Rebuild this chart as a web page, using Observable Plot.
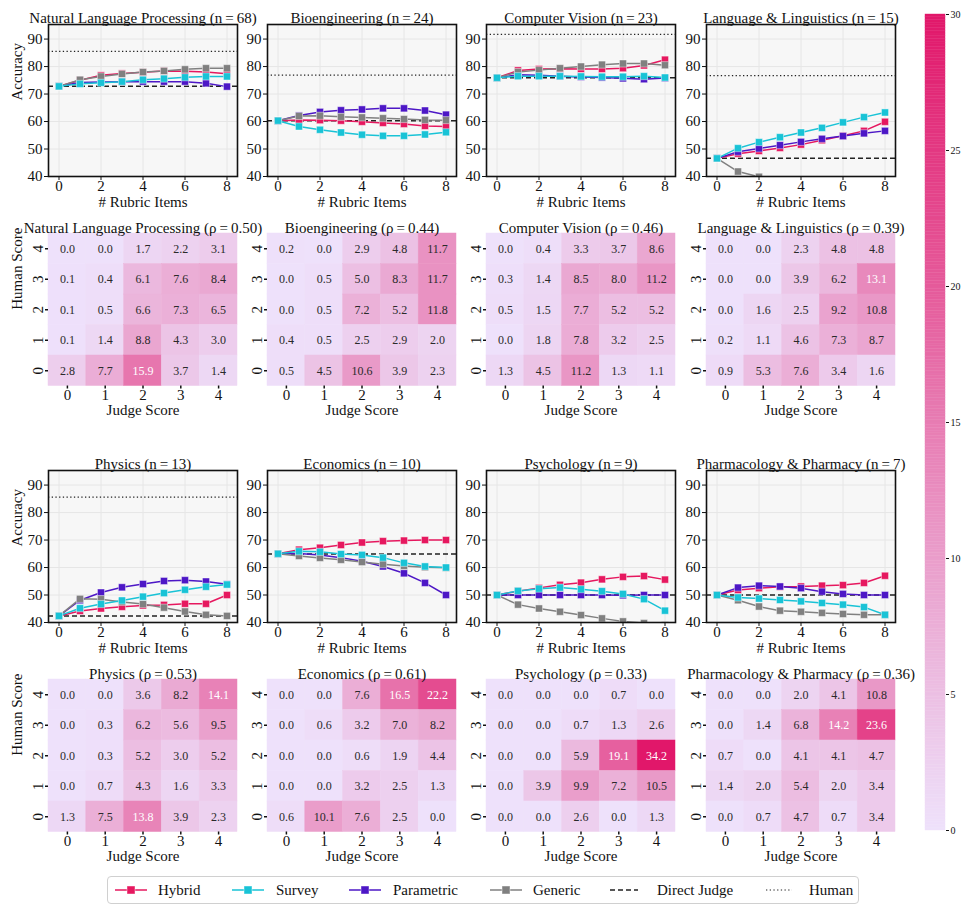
<!DOCTYPE html>
<html><head><meta charset="utf-8">
<script src="https://cdn.jsdelivr.net/npm/d3@7"></script>
<script src="https://cdn.jsdelivr.net/npm/@observablehq/plot@0.6"></script>
<style>
body{margin:0;background:#fff;}
#root{position:relative;width:965px;height:909px;background:#fff;overflow:hidden;color:#111;}
.legend{position:absolute;left:107px;top:876px;width:752px;height:28px;border:1px solid #d0d0d0;border-radius:4px;box-sizing:border-box;font-size:15px;}
.legend .item{position:absolute;top:0;height:26px;display:flex;align-items:center;}
.legend svg{display:block;}
</style></head><body><div id="root"></div>
<script>
// ---------- DATA ----------
const rubricItems = [0, 1, 2, 3, 4, 5, 6, 7, 8];
const domainNames = ["Natural Language Processing", "Bioengineering", "Computer Vision", "Language & Linguistics",
  "Physics", "Economics", "Psychology", "Pharmacology & Pharmacy"];
const domainN = [68, 24, 23, 15, 13, 10, 9, 7];
const rhoValues = ["0.50", "0.44", "0.46", "0.39", "0.53", "0.61", "0.33", "0.36"];
const seriesNames = ["Hybrid", "Survey", "Parametric", "Generic"];
const seriesColors = ["#e6185f", "#19c3d6", "#4d17c6", "#808080"];

const hybrid = [
  [72.8, 75.0, 76.8, 77.5, 77.9, 78.4, 78.3, 78.0, 77.4],
  [60.3, 60.6, 60.5, 60.3, 59.9, 59.5, 59.1, 58.4, 58.2],
  [75.9, 78.6, 79.1, 79.2, 79.1, 79.1, 79.4, 80.4, 82.5],
  [46.6, 48.3, 49.3, 50.4, 51.6, 53.2, 54.8, 56.6, 59.9],
  [42.4, 44.2, 45.1, 45.7, 46.2, 46.4, 46.8, 46.8, 50.0],
  [65.0, 66.5, 67.2, 68.2, 69.1, 69.6, 69.8, 70.0, 70.0],
  [50.0, 51.4, 52.6, 53.7, 54.5, 55.7, 56.6, 56.9, 55.6],
  [50.0, 51.8, 52.5, 53.0, 53.1, 53.4, 53.6, 54.4, 57.0]
];
const survey = [
  [72.8, 73.7, 74.1, 74.5, 75.2, 75.6, 76.1, 76.4, 76.4],
  [60.3, 58.2, 57.0, 56.0, 55.2, 54.8, 54.8, 55.3, 56.1],
  [75.9, 76.5, 76.5, 76.5, 76.4, 76.3, 76.3, 76.5, 76.0],
  [46.6, 50.3, 52.5, 54.3, 56.0, 57.7, 59.7, 61.6, 63.3],
  [42.4, 45.2, 46.7, 48.0, 49.4, 50.7, 51.9, 53.0, 53.8],
  [65.0, 65.9, 65.7, 64.9, 64.6, 63.6, 61.7, 60.4, 60.0],
  [50.0, 51.5, 52.3, 52.7, 52.1, 51.4, 50.4, 48.5, 44.3],
  [50.0, 49.1, 48.7, 48.2, 47.7, 47.1, 46.5, 45.6, 42.8]
];
const parametric = [
  [72.8, 74.2, 74.4, 74.5, 74.5, 74.5, 74.5, 73.9, 72.7],
  [60.3, 62.2, 63.5, 64.1, 64.4, 64.8, 64.8, 64.0, 62.5],
  [75.9, 77.0, 76.8, 76.5, 76.2, 76.0, 75.7, 75.4, 75.8],
  [46.6, 49.0, 50.2, 51.4, 52.6, 53.7, 54.7, 55.7, 56.6],
  [42.4, 48.1, 50.9, 52.8, 54.0, 55.1, 55.4, 54.9, 53.9],
  [65.0, 65.1, 64.6, 63.6, 62.3, 60.4, 57.9, 54.4, 50.0],
  [50.0, 50.0, 50.0, 50.0, 50.0, 50.0, 49.9, 50.0, 50.0],
  [50.0, 52.7, 53.4, 53.1, 52.5, 51.2, 50.4, 50.0, 50.0]
];
const generic = [
  [72.8, 75.2, 76.4, 77.3, 78.0, 78.4, 79.0, 79.4, 79.4],
  [60.3, 62.0, 62.1, 61.7, 61.5, 61.2, 60.9, 60.6, 60.5],
  [75.9, 78.0, 78.7, 79.4, 80.0, 80.7, 81.1, 81.1, 80.5],
  [46.6, 41.8, 39.9, 38.5, 37.5, 36.5, 35.8, 35.2, 34.7],
  [42.4, 48.6, 48.5, 47.5, 46.7, 45.4, 44.0, 42.8, 42.4],
  [65.0, 64.2, 63.5, 62.8, 62.0, 61.2, 60.6, 60.1, 59.9],
  [50.0, 46.5, 45.1, 43.9, 42.7, 41.5, 40.4, 39.8, 39.0],
  [50.0, 48.1, 45.8, 44.3, 43.9, 43.5, 43.1, 42.8, 42.8]
];
const directJudge = [72.8, 60.3, 75.9, 46.6, 42.4, 64.9, 50.0, 50.0];
const humanAcc = [85.5, 76.9, 91.7, 76.7, 85.6, null, null, null];

const judgeScores = [0, 1, 2, 3, 4];
const humanScores = [4, 3, 2, 1, 0]; // rows top to bottom
const heatmaps = [
  [[0.0, 0.0, 1.7, 2.2, 3.1], [0.1, 0.4, 6.1, 7.6, 8.4], [0.1, 0.5, 6.6, 7.3, 6.5], [0.1, 1.4, 8.8, 4.3, 3.0], [2.8, 7.7, 15.9, 3.7, 1.4]],
  [[0.2, 0.0, 2.9, 4.8, 11.7], [0.0, 0.5, 5.0, 8.3, 11.7], [0.0, 0.5, 7.2, 5.2, 11.8], [0.4, 0.5, 2.5, 2.9, 2.0], [0.5, 4.5, 10.6, 3.9, 2.3]],
  [[0.0, 0.4, 3.3, 3.7, 8.6], [0.3, 1.4, 8.5, 8.0, 11.2], [0.5, 1.5, 7.7, 5.2, 5.2], [0.0, 1.8, 7.8, 3.2, 2.5], [1.3, 4.5, 11.2, 1.3, 1.1]],
  [[0.0, 0.0, 2.3, 4.8, 4.8], [0.0, 0.0, 3.9, 6.2, 13.1], [0.0, 1.6, 2.5, 9.2, 10.8], [0.2, 1.1, 4.6, 7.3, 8.7], [0.9, 5.3, 7.6, 3.4, 1.6]],
  [[0.0, 0.0, 3.6, 8.2, 14.1], [0.0, 0.3, 6.2, 5.6, 9.5], [0.0, 0.3, 5.2, 3.0, 5.2], [0.0, 0.7, 4.3, 1.6, 3.3], [1.3, 7.5, 13.8, 3.9, 2.3]],
  [[0.0, 0.0, 7.6, 16.5, 22.2], [0.0, 0.6, 3.2, 7.0, 8.2], [0.0, 0.0, 0.6, 1.9, 4.4], [0.0, 0.0, 3.2, 2.5, 1.3], [0.6, 10.1, 7.6, 2.5, 0.0]],
  [[0.0, 0.0, 0.0, 0.7, 0.0], [0.0, 0.0, 0.7, 1.3, 2.6], [0.0, 0.0, 5.9, 19.1, 34.2], [0.0, 3.9, 9.9, 7.2, 10.5], [0.0, 0.0, 2.6, 0.0, 1.3]],
  [[0.0, 0.0, 2.0, 4.1, 10.8], [0.0, 1.4, 6.8, 14.2, 23.6], [0.7, 0.0, 4.1, 4.1, 4.7], [1.4, 2.0, 5.4, 2.0, 3.4], [0.0, 0.7, 4.7, 0.7, 3.4]]
];
const xTicks = [0, 2, 4, 6, 8];
const yTicks = [40, 50, 60, 70, 80, 90];
const colorbarTicks = [0, 5, 10, 15, 20, 25, 30];

// ---------- FONT ----------
function pickFont(cands) {
  const ctx = document.createElement("canvas").getContext("2d");
  const test = "Natural Language Processing (n=68) Wmgi 0123456789";
  for (const f of cands) {
    let found = false;
    for (const base of ["monospace", "sans-serif", "serif"]) {
      ctx.font = `40px ${base}`; const w0 = ctx.measureText(test).width;
      ctx.font = `40px "${f}", ${base}`; const w1 = ctx.measureText(test).width;
      if (Math.abs(w1 - w0) > 0.5) { found = true; break; }
    }
    if (found) return `"${f}"`;
  }
  return "serif";
}
const FONT = pickFont(["Liberation Serif", "Tinos", "Times New Roman", "Times", "Nimbus Roman", "DejaVu Serif", "Noto Serif"]) + ", serif";

// ---------- LAYOUT ----------
const colLeft = [48, 267, 486, 706];
const lineTop = [24, 470];
const heatTop = [233, 679];
const FW = 189, LH = 152, HH = 152.5;
const root = document.getElementById("root");
root.style.fontFamily = FONT;
const seriesArrays = [hybrid, survey, parametric, generic];
const drawOrder = ["Hybrid", "Parametric", "Generic", "Survey"];
const colorOf = Object.fromEntries(seriesNames.map((s, k) => [s, seriesColors[k]]));
const heatRange = ["#eee1fb", "#e1176a"];
const fmt = d3.format(".1f");

function place(el, left, top) {
  el.style.position = "absolute";
  el.style.left = left + "px";
  el.style.top = top + "px";
  root.appendChild(el);
}
const baseStyle = {background: "transparent", overflow: "visible", fontFamily: FONT, fontSize: "15px", color: "#111"};

function linePanel(i) {
  const col = i % 4, row = Math.floor(i / 4);
  const rows = [];
  seriesNames.forEach((s, k) => seriesArrays[k][i].forEach((v, j) => rows.push({series: s, x: rubricItems[j], y: v})));
  const marks = [
    Plot.frame({fill: "#f7f7f7", stroke: null}),
    Plot.gridX({ticks: xTicks, stroke: "#e6e6e6", strokeOpacity: 1, strokeWidth: 1}),
    Plot.gridY({ticks: yTicks, stroke: "#e6e6e6", strokeOpacity: 1, strokeWidth: 1}),
    Plot.ruleY([directJudge[i]], {stroke: "#222", strokeWidth: 1.5, strokeDasharray: "5,3", clip: true})
  ];
  if (humanAcc[i] != null) marks.push(Plot.ruleY([humanAcc[i]], {stroke: "#222", strokeWidth: 1.3, strokeDasharray: "1.3,2.4", clip: true}));
  for (const s of drawOrder) {
    const d = rows.filter(r => r.series === s);
    marks.push(Plot.line(d, {x: "x", y: "y", stroke: colorOf[s], strokeWidth: 1.5, clip: true}));
    marks.push(Plot.dot(d, {x: "x", y: "y", symbol: "square", r: 4, fill: colorOf[s], stroke: "white", strokeOpacity: 0.55, strokeWidth: 0.8, clip: true}));
  }
  marks.push(
    Plot.frame({stroke: "#111", strokeWidth: 1.6}),
    Plot.axisX({ticks: xTicks, tickSize: 4, tickPadding: 0, label: null, fontSize: 15}),
    Plot.axisY({ticks: yTicks, tickSize: 4, tickPadding: 2, label: null, fontSize: 15}),
    Plot.text([`${domainNames[i]} (n\u2009=\u2009${domainN[i]})`], {frameAnchor: "top", dy: -12, fontSize: 15}),
    Plot.text(["# Rubric Items"], {frameAnchor: "bottom", dy: 30, fontSize: 15})
  );
  if (col === 0) marks.push(Plot.text(["Accuracy"], {frameAnchor: "left", dx: -31, rotate: -90, fontSize: 15}));
  const p = Plot.plot({
    width: 48 + FW + 4, height: 24 + LH + 42,
    marginLeft: 48, marginRight: 4, marginTop: 24, marginBottom: 42,
    style: baseStyle,
    x: {domain: [-0.5, 8.5]},
    y: {domain: [40, 95.3]},
    marks
  });
  place(p, colLeft[col] - 48, lineTop[row] - 24);
}

function heatPanel(i) {
  const col = i % 4, row = Math.floor(i / 4);
  const cells = [];
  humanScores.forEach((h, r) => judgeScores.forEach((j, c) => cells.push({human: h, judge: j, v: heatmaps[i][r][c]})));
  const marks = [
    Plot.cell(cells, {x: "judge", y: "human", fill: "v", stroke: "v", strokeWidth: 0.5, inset: 0}),
    Plot.text(cells.filter(d => d.v >= 12.5), {x: "judge", y: "human", text: d => fmt(d.v), fill: "white", fontSize: 12}),
    Plot.text(cells.filter(d => d.v < 12.5), {x: "judge", y: "human", text: d => fmt(d.v), fill: "#2a2a2a", fontSize: 12}),
    Plot.axisX({tickSize: 3, tickPadding: 0, strokeWidth: 1.5, label: null, fontSize: 15}),
    Plot.axisY({tickSize: 3, tickPadding: 3, strokeWidth: 1.5, tickRotate: -90, label: null, fontSize: 15}),
    Plot.text([`${domainNames[i]} (\u03C1\u2009=\u2009${rhoValues[i]})`], {frameAnchor: "top", dy: -11, fontSize: 15}),
    Plot.text(["Judge Score"], {frameAnchor: "bottom", dy: 29, fontSize: 15})
  ];
  if (col === 0) marks.push(Plot.text(["Human Score"], {frameAnchor: "left", dx: -31, rotate: -90, fontSize: 15}));
  const p = Plot.plot({
    width: 48 + FW + 4, height: 22 + HH + 38,
    marginLeft: 48, marginRight: 4, marginTop: 22, marginBottom: 38,
    style: baseStyle,
    x: {type: "band", domain: judgeScores, padding: 0, round: false},
    y: {type: "band", domain: humanScores, padding: 0, round: false},
    color: {type: "linear", domain: [0, 30], range: heatRange, interpolate: "rgb", clamp: true},
    marks
  });
  place(p, colLeft[col] - 48, heatTop[row] - 22);
}

for (let i = 0; i < 8; i++) { linePanel(i); heatPanel(i); }

// colorbar
const colorbarSteps = d3.range(0, 30, 0.1);
const cb = Plot.plot({
  width: 20 + 30, height: 816 + 12,
  marginLeft: 0, marginRight: 30, marginTop: 6, marginBottom: 6,
  style: {...baseStyle, fontSize: "10px"},
  x: {domain: [0, 1], axis: null},
  y: {domain: [0, 30]},
  color: {type: "linear", domain: [0, 30], range: heatRange, interpolate: "rgb", clamp: true},
  marks: [
    Plot.rect(colorbarSteps, {x1: 0, x2: 1, y1: d => d, y2: d => d + 0.1, fill: d => d + 0.05, stroke: d => d + 0.05, strokeWidth: 0.4}),
    Plot.axisY({anchor: "right", ticks: colorbarTicks, tickSize: 3, tickPadding: 2, label: null, fontSize: 10})
  ]
});
place(cb, 925, 14 - 6);

// legend
const legendItems = [
  {label: "Hybrid", kind: "marker", color: seriesColors[0], sw: 115, tx: 158},
  {label: "Survey", kind: "marker", color: seriesColors[1], sw: 232, tx: 276},
  {label: "Parametric", kind: "marker", color: seriesColors[2], sw: 349, tx: 393},
  {label: "Generic", kind: "marker", color: seriesColors[3], sw: 490, tx: 533},
  {label: "Direct Judge", kind: "dash", color: "#222", sw: 610, tx: 657},
  {label: "Human", kind: "dot", color: "#222", sw: 766, tx: 809}
];
const leg = document.createElement("div");
leg.className = "legend";
leg.style.fontFamily = FONT;
root.appendChild(leg);
for (const it of legendItems) {
  const sdiv = document.createElement("div");
  sdiv.className = "item";
  sdiv.style.left = (it.sw - 108) + "px";
  const w = 32;
  let inner;
  if (it.kind === "marker") {
    inner = `<line x1="0" y1="6" x2="${w}" y2="6" stroke="${it.color}" stroke-width="1.5"/><rect x="${w/2-4}" y="2" width="8" height="8" fill="${it.color}" stroke="white" stroke-opacity="0.55" stroke-width="0.8"/>`;
  } else if (it.kind === "dash") {
    inner = `<line x1="0" y1="6" x2="28" y2="6" stroke="${it.color}" stroke-width="1.5" stroke-dasharray="5,3"/>`;
  } else {
    inner = `<line x1="0" y1="6" x2="26" y2="6" stroke="${it.color}" stroke-width="1.2" stroke-dasharray="1.3,2.4"/>`;
  }
  sdiv.innerHTML = `<svg width="${w}" height="12">${inner}</svg>`;
  leg.appendChild(sdiv);
  const tdiv = document.createElement("div");
  tdiv.className = "item";
  tdiv.style.left = (it.tx - 108) + "px";
  tdiv.textContent = it.label;
  leg.appendChild(tdiv);
}
</script></body></html>
